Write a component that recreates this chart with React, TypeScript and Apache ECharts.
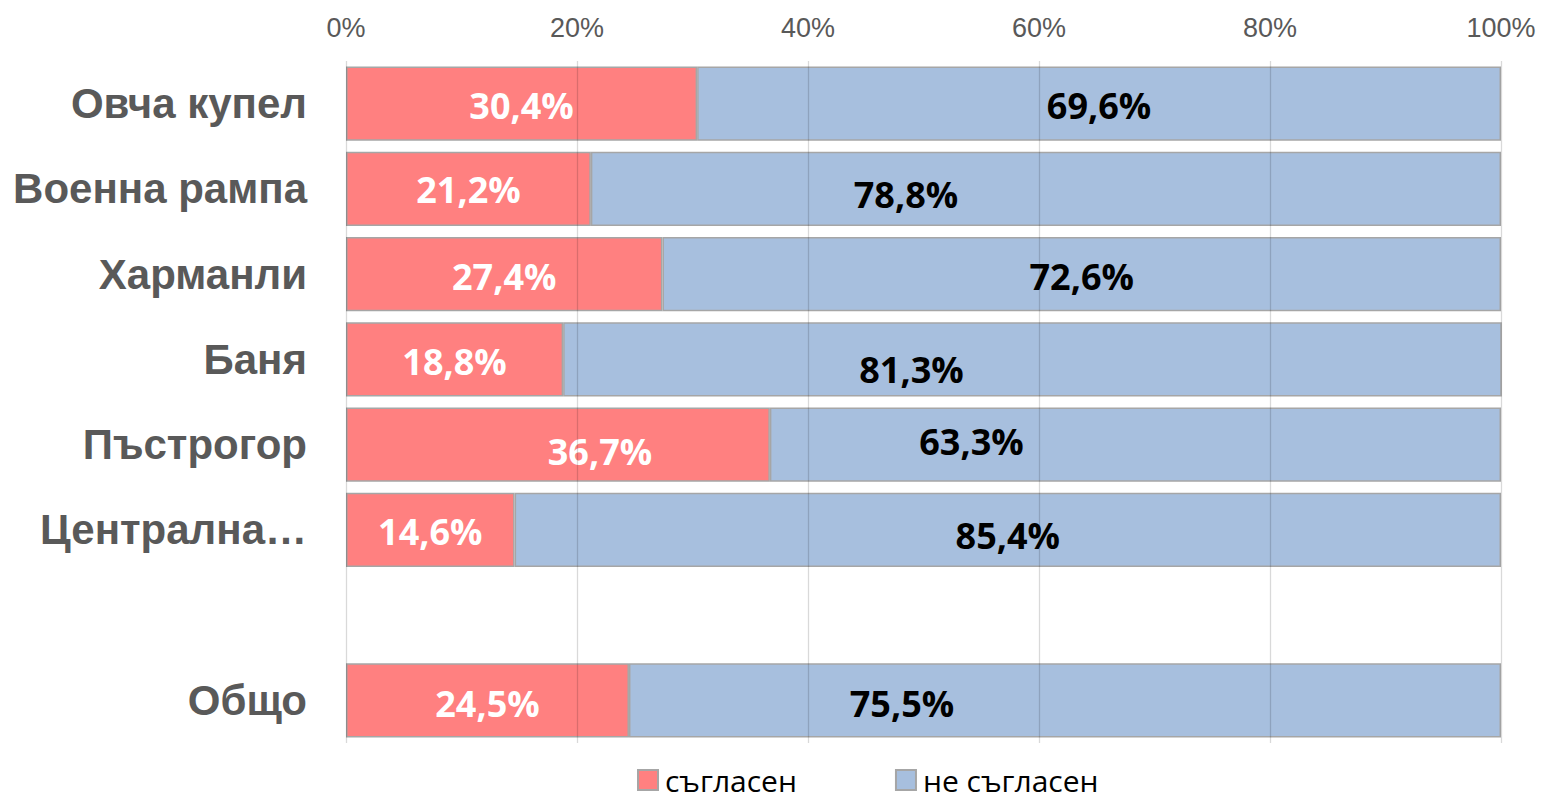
import React, { useEffect, useRef } from "react";
import * as echarts from "echarts";

const categories = ["Овча купел", "Военна рампа", "Харманли", "Баня", "Пъстрогор", "Централна…", "", "Общо"];
const agreeValues: (number | null)[] = [30.4, 21.2, 27.4, 18.8, 36.7, 14.6, null, 24.5];
const disagreeValues: (number | null)[] = [69.6, 78.8, 72.6, 81.3, 63.3, 85.4, null, 75.5];
const xTicks = [0, 20, 40, 60, 80, 100];
const seriesNames = ["съгласен", "не съгласен"];

const fmt = (v: number) => v.toFixed(1).replace(".", ",") + "%";

export default function App() {
  const ref = useRef<HTMLDivElement>(null);
  useEffect(() => {
    if (!ref.current) return;
    const chart = echarts.init(ref.current, undefined, { renderer: "svg" });
    // label offsets (style only, manually moved labels in original)
    const redOffsets = [[0, 2], [0, 1], [0, 2], [0, 2], [42, 7], [0, 2], [0, 0], [0, 3]];
    const blueOffsets = [[0, 2], [-140, 6], [0, 2], [-121, 10], [-164, -3], [0, 6], [0, 0], [-163, 3]];
    const mk = (vals: (number | null)[], offs: number[][]) =>
      vals.map((v, i) => (v == null ? "-" : { value: v, label: { offset: offs[i] } }));
    const labelFont = "'Open Sans', 'Noto Sans', sans-serif";
    chart.setOption({
      animation: false,
      grid: { left: 346, right: 41, top: 61, bottom: 61, containLabel: false },
      legend: {
        data: seriesNames,
        top: 765,
        left: 637,
        padding: 0,
        itemWidth: 20,
        itemHeight: 20,
        itemGap: 98,
        icon: "rect",
        textStyle: { fontSize: 30, lineHeight: 30, color: "#000", fontFamily: labelFont, padding: [0, 0, 0, 2] },
      },
      xAxis: {
        type: "value",
        position: "top",
        min: xTicks[0],
        max: xTicks[xTicks.length - 1],
        interval: 20,
        z: 3,
        axisLine: { show: false },
        axisTick: { show: false },
        axisLabel: {
          formatter: "{value}%",
          fontSize: 27,
          color: "#595959",
          fontFamily: "'Liberation Sans', Arial, sans-serif",
          margin: 20,
        },
        splitLine: { show: true, lineStyle: { color: "rgba(0,0,0,0.15)", width: 1.3 } },
      },
      yAxis: {
        type: "category",
        data: categories,
        inverse: true,
        axisLine: { show: false },
        axisTick: { show: false },
        axisLabel: {
          fontSize: 42,
          fontWeight: "bold",
          color: "#595959",
          fontFamily: "'Liberation Sans Narrow', 'Arial Narrow', 'Liberation Sans', sans-serif",
          margin: 39,
        },
      },
      series: [
        {
          name: seriesNames[0],
          type: "bar",
          stack: "total",
          barCategoryGap: "13%",
          data: mk(agreeValues, redOffsets),
          itemStyle: { color: "#FF8080", borderColor: "#A6A6A6", borderWidth: 1.5 },
          label: {
            show: true,
            position: "inside",
            formatter: (p: any) => fmt(p.value),
            color: "#fff",
            fontSize: 36,
            fontWeight: "bold",
            fontFamily: labelFont,
          },
        },
        {
          name: seriesNames[1],
          type: "bar",
          stack: "total",
          barCategoryGap: "13%",
          data: mk(disagreeValues, blueOffsets),
          itemStyle: { color: "#A7BFDE", borderColor: "#A6A6A6", borderWidth: 1.5 },
          label: {
            show: true,
            position: "inside",
            formatter: (p: any) => fmt(p.value),
            color: "#000",
            fontSize: 36,
            fontWeight: "bold",
            fontFamily: labelFont,
          },
        },
      ],
    });
    return () => chart.dispose();
  }, []);
  return (
    <div
      ref={ref}
      style={{ position: "absolute", left: 0, top: 0, width: 1542, height: 804, background: "#fff" }}
    />
  );
}
